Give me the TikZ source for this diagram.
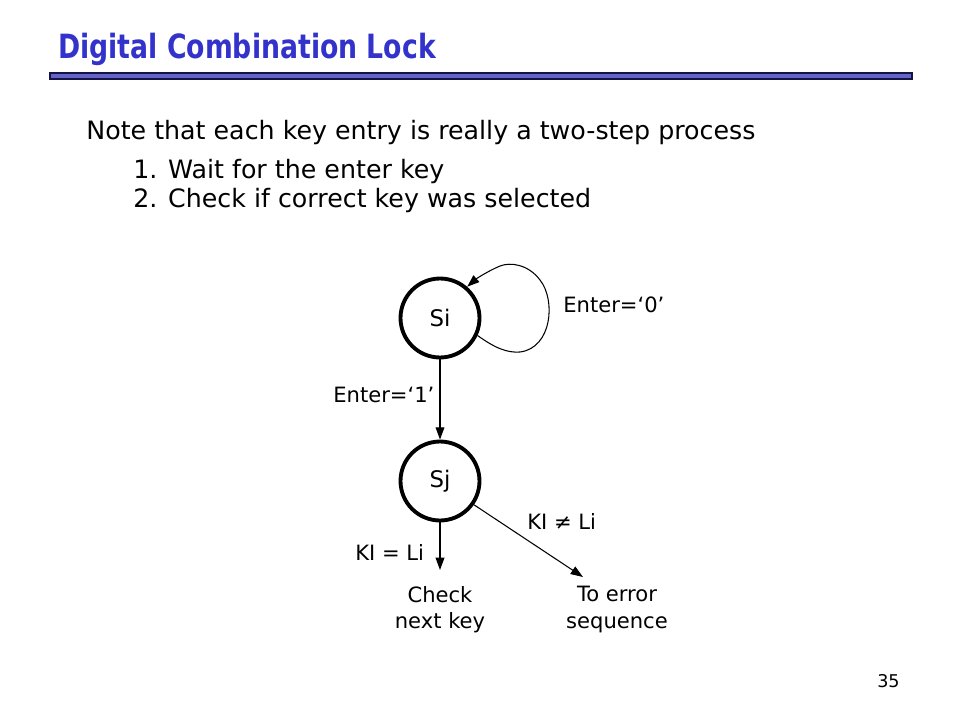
\documentclass[tikz,border=0pt]{standalone}
\usepackage{fontspec}
\usepackage{graphicx}
\setmainfont{DejaVu Sans}
\usetikzlibrary{arrows.meta}

\definecolor{titleblue}{RGB}{51,51,204}
\definecolor{barblue}{RGB}{100,100,200}
\definecolor{barline}{RGB}{20,20,70}

\tikzset{
  state/.style={circle, draw, line width=2.2pt, minimum size=1.58cm, inner sep=0pt, font=\fontsize{13}{15}\selectfont},
  trans/.style={-{Triangle[length=7pt,width=5pt]}, line width=0.6pt},
  lbl/.style={font=\fontsize{12}{15}\selectfont, inner sep=0pt},
  txt/.style={anchor=base west, font=\fontsize{14.4}{17}\selectfont, inner sep=0pt}
}

\begin{document}
\begin{tikzpicture}[x=0.02cm, y=-0.02cm]
\useasboundingbox (0,0) rectangle (960,720);

% title
\node[anchor=base west, inner sep=0pt, text=titleblue, font=\fontsize{19}{22}\selectfont\bfseries] (title) at (58,58) {\scalebox{0.8}[1]{Digital Combination Lock}};
\draw[barline, fill=barblue, line width=0.8pt] (50,73) rectangle (912,79);

% text
\node[txt] (note) at (86,139) {Note that each key entry is really a two-step process};
\node[txt] (step1) at (133,178) {1. Wait for the enter key};
\node[txt] (step2) at (133,207) {2. Check if correct key was selected};

% states
\node[state] (si) at (440,318) {Si};
\node[state] (sj) at (440,481) {Sj};
\coordinate (chk) at (440,570);
\coordinate (err) at (583,577);

% transitions
\draw[trans] (si) -- (sj);
\draw[trans] (si.-25) .. controls (495,348) and (507,353) .. (520,352)
  .. controls (552,348) and (556,300) .. (540,280)
  .. controls (528,264) and (510,262) .. (500,266)
  .. controls (488,271) and (476,279) .. (si.49);
\draw[trans] (sj) -- (chk);
\draw[trans] (sj.-35) -- (err);

% labels
\node[lbl, anchor=west] (e0) at (563,305) {Enter=‘0’};
\node[lbl, anchor=west] (e1) at (333,395) {Enter=‘1’};
\node[lbl, anchor=west] (ne) at (527,521) {KI ≠ Li};
\node[lbl, anchor=west] (eq) at (355,552) {KI = Li};
\node[lbl, align=center, anchor=north] (next) at (440,586) {Check\\next key};
\node[lbl, align=center, anchor=north] (seq) at (617,586) {To error\\sequence};
\node[lbl, anchor=east, font=\fontsize{10}{12}\selectfont] (page) at (900,681) {35};
\end{tikzpicture}
\end{document}
